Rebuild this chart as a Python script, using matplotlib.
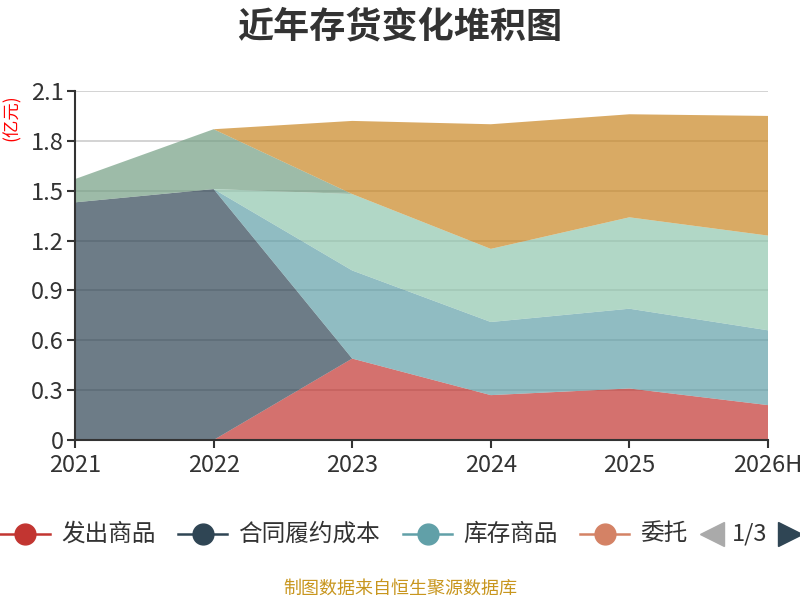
import matplotlib
matplotlib.use('Agg')
import matplotlib.pyplot as plt
from matplotlib.lines import Line2D

plt.rcParams['font.family'] = ['Noto Sans CJK SC', 'DejaVu Sans']

years = ['2021', '2022', '2023', '2024', '2025', '2026H']
# 亿元
fachu = [0, 0, 0.49, 0.27, 0.31, 0.21]
hetong = [1.43, 1.51, 0, 0, 0, 0]
kucun = [0, 0, 0.53, 0.44, 0.48, 0.45]
weituo = [0, 0, 0, 0, 0, 0]
s5 = [0, 0, 0.46, 0.44, 0.55, 0.57]
s6 = [0.14, 0.36, 0, 0, 0, 0]
s7 = [0, 0, 0.44, 0.75, 0.62, 0.72]
names = ['发出商品', '合同履约成本', '库存商品', '委托加工物资', '原材料', '在产品', '周转材料']
colors = ['#c23531', '#2f4554', '#61a0a8', '#d48265', '#91c7ae', '#749f83', '#ca8622']

fig = plt.figure(figsize=(8, 6), dpi=100)
ax = fig.add_axes([75 / 800, 160 / 600, 693 / 800, 349 / 600])

x = list(range(len(years)))
ax.stackplot(x, fachu, hetong, kucun, weituo, s5, s6, s7,
             colors=colors, alpha=0.7, linewidth=0, zorder=1)

ax.set_xlim(0, len(years) - 1)
ax.set_ylim(0, 2.1)
ax.set_yticks([0, 0.3, 0.6, 0.9, 1.2, 1.5, 1.8, 2.1])
ax.set_yticklabels(['0', '0.3', '0.6', '0.9', '1.2', '1.5', '1.8', '2.1'])
ax.set_xticks(x)
ax.set_xticklabels(years)
ax.yaxis.grid(True, color='#cccccc', linewidth=1.2, zorder=0)
ax.set_axisbelow(True)
for s in ['top', 'right']:
    ax.spines[s].set_visible(False)
for s in ['left', 'bottom']:
    ax.spines[s].set_color('#333333')
    ax.spines[s].set_linewidth(1.5)
ax.tick_params(axis='both', colors='#333333', labelsize=17, length=6, width=1.5)
ax.tick_params(axis='y', pad=2)
ax.tick_params(axis='x', pad=4)

fig.text(12 / 800, 1 - 118 / 600, '(亿元)', color='red', fontsize=12.5,
         rotation=90, ha='center', va='center')

fig.text(0.5, 1 - 27 / 600, '近年存货变化堆积图', fontsize=26, fontweight='bold',
         color='#333333', ha='center', va='center')

# 图例
def px(xp, yp):
    return xp / 800, 1 - yp / 600

leg_y = 534
items = [(0, 50, 61), (178, 227, 238), (403, 452, 463), (580, 629, 640)]
labels = names[:3] + ['委托']
for (x0, x1, tx), lab, c in zip(items, labels, colors[:4]):
    fx0, fy = px(x0, leg_y)
    fx1, _ = px(x1, leg_y)
    fig.add_artist(Line2D([fx0, fx1], [fy, fy], color=c, linewidth=1.8,
                          transform=fig.transFigure))
    fig.add_artist(Line2D([(fx0 + fx1) / 2], [fy],
                          marker='o', markersize=15, color=c,
                          transform=fig.transFigure))
    fig.text(px(tx, 0)[0], fy, lab, fontsize=17, color='#333333',
             ha='left', va='center')

fy = px(0, leg_y)[1]
fig.add_artist(Line2D([px(712, 0)[0]], [fy], marker='<', markersize=17,
                      color='#aaaaaa', linestyle='none', transform=fig.transFigure))
fig.text(px(750, 0)[0], fy, '1/3', fontsize=17, color='#333333',
         ha='center', va='center')
fig.add_artist(Line2D([px(790, 0)[0]], [fy], marker='>', markersize=17,
                      color='#2f4554', linestyle='none', transform=fig.transFigure))

fig.text(0.5, 1 - 589 / 600, '制图数据来自恒生聚源数据库', fontsize=13,
         color='#c8961e', ha='center', va='center')

fig.savefig('out.png', dpi=100)
